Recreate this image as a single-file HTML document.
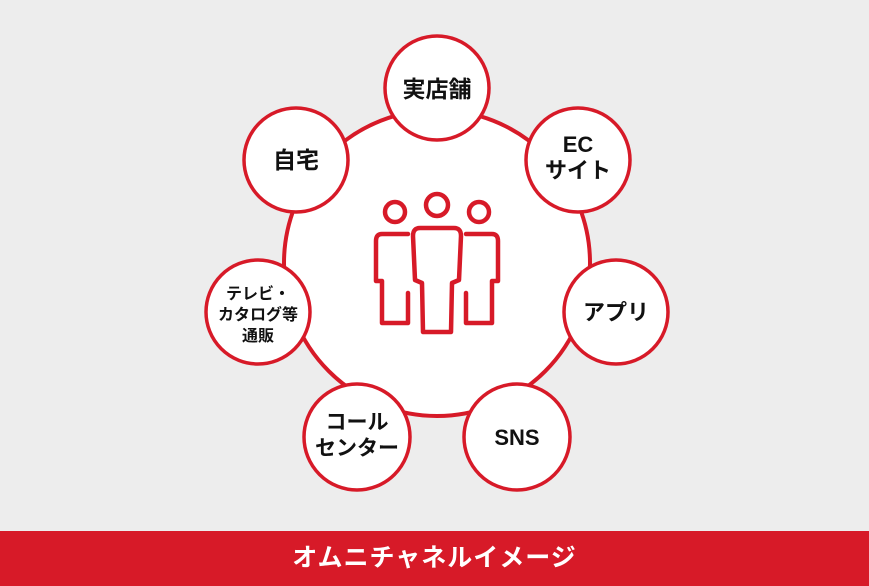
<!DOCTYPE html>
<html><head><meta charset="utf-8"><style>
html,body{margin:0;padding:0;}
body{width:869px;height:586px;background:#ededed;position:relative;overflow:hidden;font-family:"Liberation Sans","Noto Sans CJK JP",sans-serif;}
.bar{position:absolute;left:0;top:531px;width:869px;height:55px;background:#d71a28;color:#fff;font-weight:bold;font-size:25px;text-align:center;line-height:55px;letter-spacing:1px;}
svg text{font-family:"Liberation Sans","Noto Sans CJK JP",sans-serif;font-weight:bold;fill:#111;text-anchor:middle;}
</style></head><body>
<svg width="869" height="531" style="position:absolute;left:0;top:0">
<circle cx="437" cy="263" r="153" fill="#fff" stroke="#d71a28" stroke-width="4"/>
<g fill="#fff" stroke="#d71a28" stroke-width="3.5">
<circle cx="437" cy="88" r="52"/>
<circle cx="578" cy="160" r="52"/>
<circle cx="616" cy="312" r="52"/>
<circle cx="517" cy="437" r="53"/>
<circle cx="357" cy="437" r="53"/>
<circle cx="258" cy="312" r="52"/>
<circle cx="296" cy="160" r="52"/>
</g>
<g fill="none" stroke="#d71a28" stroke-width="4.5" stroke-linejoin="round" stroke-linecap="round">
<circle cx="395" cy="212" r="10"/>
<circle cx="437" cy="205" r="11"/>
<circle cx="479" cy="212" r="10"/>
<path d="M408 234 H382 Q376 234 376 241 V281 H382 V323 H408 V293"/>
<path d="M466 234 H492 Q498 234 498 241 V281 H492 V323 H466 V293"/>
<path d="M420 228 H454 Q461 228 461 236 L459 280 L452 283 L451 332 H423 L422 283 L415 280 L413 236 Q413 228 420 228 Z"/>
</g>
<text x="437" y="97" font-size="23">実店舗</text>
<text x="578" y="152" font-size="22">EC</text>
<text x="578" y="178" font-size="22">サイト</text>
<text x="616" y="320" font-size="22">アプリ</text>
<text x="517" y="445" font-size="22">SNS</text>
<text x="357" y="429" font-size="21">コール</text>
<text x="357" y="455" font-size="21">センター</text>
<text x="258" y="299" font-size="16">テレビ・</text>
<text x="258" y="320" font-size="16">カタログ等</text>
<text x="258" y="341" font-size="16">通販</text>
<text x="296" y="168" font-size="23">自宅</text>
</svg>
<div class="bar">オムニチャネルイメージ</div>
</body></html>
